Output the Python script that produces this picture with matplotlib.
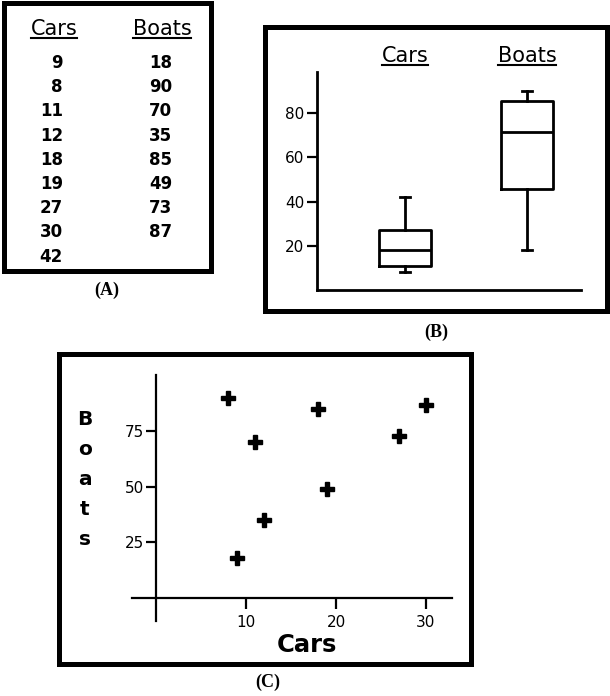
"""Cars vs boats: data table, box plot and scatter plot."""

import matplotlib.pyplot as plt
from matplotlib.lines import Line2D
from matplotlib.patches import Rectangle

cars = [9, 8, 11, 12, 18, 19, 27, 30, 42]
boats = [18, 90, 70, 35, 85, 49, 73, 87]
group_names = ["Cars", "Boats"]
box_yticks = [20, 40, 60, 80]
scatter_xticks = [10, 20, 30]
scatter_yticks = [25, 50, 75]
panel_tags = ["(A)", "(B)", "(C)"]

W, H = 610, 696
fig = plt.figure(figsize=(W / 100, H / 100), dpi=100)

# full-figure canvas in pixel units for frames, table text and panel tags
canvas = fig.add_axes([0, 0, 1, 1], zorder=0)
canvas.set_xlim(0, W)
canvas.set_ylim(H, 0)
canvas.axis("off")


def px_rect(x0, y0, x1, y1):
    return [x0 / W, 1 - y1 / H, (x1 - x0) / W, (y1 - y0) / H]


for x0, y0, x1, y1 in [(4, 3, 211, 271), (265, 27, 607, 311), (59, 354, 471, 664)]:
    canvas.add_patch(Rectangle((x0, y0), x1 - x0, y1 - y0, fill=False, lw=3.6, ec="black"))

for tag, (x, y) in zip(panel_tags, [(107, 290), (436, 332), (268, 682)]):
    canvas.text(x, y, tag, ha="center", va="center", fontsize=13, fontweight="bold",
                family=["Liberation Serif", "DejaVu Serif"])

underlined = []

# ---- (A) table
for name, xc in zip(group_names, [54, 162]):
    underlined.append(canvas.text(xc, 35, name, ha="center", va="baseline", fontsize=15))
for col, (values, xr) in enumerate([(cars, 63), (boats, 172)]):
    for i, v in enumerate(values):
        canvas.text(xr, 68 + 24.2 * i, str(v), ha="right", va="baseline",
                    fontsize=12, fontweight="bold")

# ---- (B) box plot
axB = fig.add_axes(px_rect(317, 72, 581, 290))
line = dict(color="black", lw=2)
axB.boxplot([cars, boats], positions=[1, 2], widths=0.426, capwidths=0.075,
            showfliers=False, boxprops=line, whiskerprops=line, capprops=line,
            medianprops=line)
axB.set_xlim(0.279, 2.443)
axB.set_ylim(0, 98.6)
axB.set_yticks(box_yticks)
axB.set_xticks([])
axB.tick_params(axis="y", direction="out", length=7.5, width=1.6, pad=1.5, labelsize=11)
for side in ["top", "right"]:
    axB.spines[side].set_visible(False)
for side in ["left", "bottom"]:
    axB.spines[side].set_linewidth(2)
for pos, name in zip([1, 2], group_names):
    underlined.append(axB.text(pos, 1.048, name, transform=axB.get_xaxis_transform(),
                               ha="center", va="baseline", fontsize=15))

# ---- (C) scatter
axC = fig.add_axes(px_rect(132, 375, 452, 621))
axC.plot(cars[:len(boats)], boats, "P", ms=9.5, color="black", mec="black")
axC.set_xlim(-2.7, 32.9)
axC.set_ylim(-10.4, 100.4)
axC.set_xticks(scatter_xticks)
axC.set_yticks(scatter_yticks)
axC.spines["left"].set_position(("data", 0))
axC.spines["bottom"].set_position(("data", 0))
for side in ["top", "right"]:
    axC.spines[side].set_visible(False)
for side in ["left", "bottom"]:
    axC.spines[side].set_linewidth(1.6)
axC.tick_params(axis="x", direction="out", length=8, width=1.6, pad=4, labelsize=11)
axC.tick_params(axis="y", direction="out", length=7.5, width=1.6, pad=1, labelsize=11)
axC.patch.set_alpha(0)
axC.text(0.547, -0.126, "Cars", transform=axC.transAxes, ha="center", va="baseline",
         fontsize=17.5, fontweight="bold")
for i, ch in enumerate("Boats"):
    axC.text(-0.147, 0.795 - i * 0.122, ch, transform=axC.transAxes, ha="center",
             va="baseline", fontsize=14.5, fontweight="bold")

# underline headers, measured from their drawn extents
fig.canvas.draw()
renderer = fig.canvas.get_renderer()
to_px = canvas.transData.inverted()
for t in underlined:
    bb = t.get_window_extent(renderer)
    (x0, _), (x1, _) = to_px.transform([(bb.x0, bb.y0), (bb.x1, bb.y0)])
    _, base = to_px.transform(t.get_transform().transform(t.get_position()))
    canvas.add_line(Line2D([x0, x1], [base + 3, base + 3], color="black", lw=1.5))

fig.savefig("out.png", dpi=100)
